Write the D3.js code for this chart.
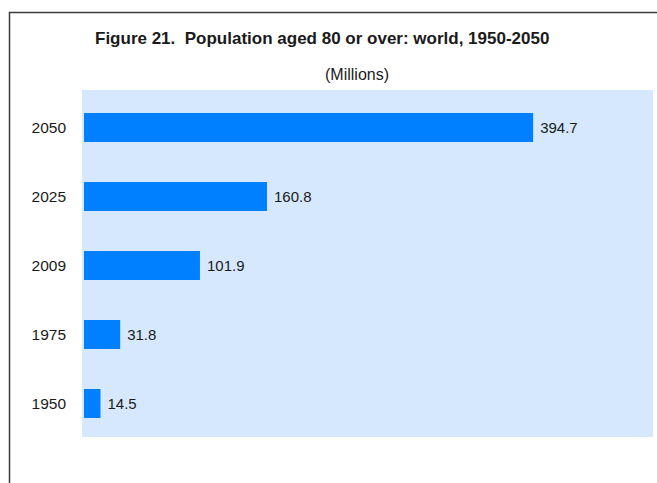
<!DOCTYPE html>
<html>
<head>
<meta charset="utf-8">
<script src="https://cdn.jsdelivr.net/npm/d3@7"></script>
<style>
  body { margin: 0; background: #fff; }
  svg { display: block; font-family: "Liberation Sans", Arial, sans-serif; }
</style>
</head>
<body>
<div id="chart"></div>
<script>
// chart data
const years = ["2050", "2025", "2009", "1975", "1950"];
const values = [394.7, 160.8, 101.9, 31.8, 14.5];
const xMax = 500;

const W = 657, H = 483;
const plot = {left: 82, top: 90, right: 653, bottom: 437};

const svg = d3.select("#chart").append("svg")
  .attr("width", W)
  .attr("height", H);

// outer frame (runs off the right and bottom)
svg.append("rect")
  .attr("x", 9.5).attr("y", 12.5)
  .attr("width", 700).attr("height", 520)
  .attr("fill", "none")
  .attr("stroke", "#3a3a3a")
  .attr("stroke-width", 1.5);

// title
svg.append("text")
  .attr("x", 95).attr("y", 44)
  .attr("font-size", "17px")
  .attr("font-weight", "bold")
  .attr("fill", "#1a1a1a")
  .attr("xml:space", "preserve")
  .text("Figure 21.  Population aged 80 or over: world, 1950-2050");

svg.append("text")
  .attr("x", 357).attr("y", 80)
  .attr("text-anchor", "middle")
  .attr("font-size", "16px")
  .attr("fill", "#1a1a1a")
  .text("(Millions)");

// plot background
svg.append("rect")
  .attr("x", plot.left).attr("y", plot.top)
  .attr("width", plot.right - plot.left)
  .attr("height", plot.bottom - plot.top)
  .attr("fill", "#d6e8fd");

// scales
const x = d3.scaleLinear()
  .domain([0, xMax])
  .range([84, 653]);

const y = d3.scaleBand()
  .domain(years)
  .range([93, 438])
  .paddingInner(0.58)
  .paddingOuter(0.29);

// bars
svg.selectAll("rect.bar")
  .data(years)
  .join("rect")
  .attr("class", "bar")
  .attr("x", x(0))
  .attr("y", d => y(d))
  .attr("width", (d, i) => x(values[i]) - x(0))
  .attr("height", y.bandwidth())
  .attr("fill", "#0080ff");

// value labels
svg.selectAll("text.val")
  .data(years)
  .join("text")
  .attr("class", "val")
  .attr("x", (d, i) => x(values[i]) + 7)
  .attr("y", d => y(d) + y.bandwidth() / 2)
  .attr("dy", "0.35em")
  .attr("font-size", "15px")
  .attr("fill", "#1a1a1a")
  .text((d, i) => values[i].toFixed(1));

// category axis labels
svg.selectAll("text.cat")
  .data(years)
  .join("text")
  .attr("class", "cat")
  .attr("x", 66)
  .attr("y", d => y(d) + y.bandwidth() / 2)
  .attr("dy", "0.35em")
  .attr("text-anchor", "end")
  .attr("font-size", "15.5px")
  .attr("fill", "#1a1a1a")
  .text(d => d);
</script>
</body>
</html>
